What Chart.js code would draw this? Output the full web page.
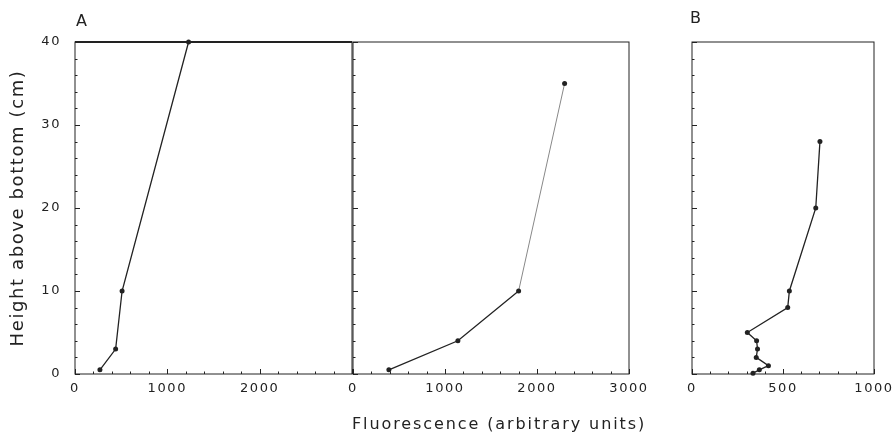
<!DOCTYPE html>
<html>
<head>
<meta charset="utf-8">
<script src="https://cdn.jsdelivr.net/npm/chart.js@4.4.1/dist/chart.umd.min.js"></script>
<style>
  body { margin: 0; background: #fff; }
  #wrap { position: relative; width: 893px; height: 442px; font-family: "DejaVu Sans", sans-serif; color: #222; }
  #wrap canvas { position: absolute; left: 0; top: 0; }
  .lbl { position: absolute; white-space: nowrap; }
</style>
</head>
<body>
<div id="wrap">
  <canvas id="c1" width="893" height="442"></canvas>
  <canvas id="c2" width="893" height="442"></canvas>
  <canvas id="c3" width="893" height="442"></canvas>
  <div class="lbl" style="left:76px;top:11px;font-size:16px;">A</div>
  <div class="lbl" style="left:690px;top:8px;font-size:16px;">B</div>
  <div class="lbl" id="xtitle" style="left:352px;top:414px;font-size:16px;letter-spacing:1.9px;">Fluorescence (arbitrary units)</div>
</div>
<script>
// panel A, left profile
const a1Fluor = [270, 440, 510, 1230];
const a1Height = [0.5, 3, 10, 40];
// panel A, right profile
const a2Fluor = [390, 1140, 1800, 2300];
const a2Height = [0.5, 4, 10, 35];
// panel B
const bFluor = [335, 370, 420, 353, 360, 355, 304, 526, 535, 680, 703];
const bHeight = [0.1, 0.5, 1, 2, 3, 4, 5, 8, 10, 20, 28];

const heightTicks = [0, 10, 20, 30, 40];
const a1XTicks = [0, 1000, 2000];
const a2XTicks = [0, 1000, 2000, 3000];
const bXTicks = [0, 500, 1000];

const ink = '#222';
const tickFont = { family: 'DejaVu Sans', size: 13 };

// letter spacing on canvas text (canvas resets when resized, so set it each time)
const spacing = {
  id: 'spacing',
  beforeUpdate(chart) { chart.ctx.letterSpacing = '1.6px'; },
  beforeDraw(chart) { chart.ctx.letterSpacing = '1.6px'; }
};

// frame plus inward ticks, drawn from the scales
const frame = {
  id: 'frame',
  afterDatasetsDraw(chart, args, opts) {
    const { ctx, chartArea: a, scales: { x, y } } = chart;
    ctx.save();
    ctx.strokeStyle = ink;
    ctx.lineWidth = 1;
    ctx.strokeRect(a.left, a.top, a.right - a.left, a.bottom - a.top);
    if (opts.topWidth) {
      ctx.lineWidth = opts.topWidth;
      ctx.beginPath(); ctx.moveTo(a.left, a.top); ctx.lineTo(a.right, a.top); ctx.stroke();
      ctx.lineWidth = 1;
    }
    ctx.beginPath();
    for (let v = x.min; v <= x.max; v += opts.xMinor) {
      const px = Math.round(x.getPixelForValue(v)) + 0.5;
      const len = v % opts.xMajor === 0 ? 5 : 2.5;
      ctx.moveTo(px, a.bottom); ctx.lineTo(px, a.bottom - len);
    }
    for (let v = y.min; v <= y.max; v += 2) {
      const py = Math.round(y.getPixelForValue(v)) + 0.5;
      const len = v % 10 === 0 ? 5 : 2.5;
      ctx.moveTo(a.left, py); ctx.lineTo(a.left + len, py);
    }
    ctx.stroke();
    ctx.restore();
  }
};

function makePanel(id, xs, ys, o) {
  const pts = xs.map((v, i) => ({ x: v, y: ys[i] }));
  return new Chart(document.getElementById(id), {
    type: 'scatter',
    data: {
      datasets: [{
        data: pts,
        showLine: true,
        borderColor: ink,
        borderWidth: 1.3,
        backgroundColor: ink,
        pointRadius: 2.5,
        pointBorderWidth: 0,
        clip: false,
        segment: o.segment
      }]
    },
    options: {
      responsive: false,
      animation: false,
      events: [],
      layout: { padding: o.padding },
      plugins: { legend: { display: false }, tooltip: { enabled: false }, frame: o.frame },
      scales: {
        x: {
          type: 'linear', min: 0, max: o.xMax,
          grid: { display: false, drawTicks: false }, border: { display: false },
          afterBuildTicks: s => { s.ticks = o.xTicks.map(v => ({ value: v })); },
          afterFit: s => { s.height = 68; s.paddingLeft = 0; s.paddingRight = 0; },
          ticks: { color: ink, font: tickFont, padding: 7, maxRotation: 0, autoSkip: false,
                   callback: v => String(v) }
        },
        y: {
          type: 'linear', min: 0, max: 40,
          grid: { display: false, drawTicks: false }, border: { display: false },
          afterBuildTicks: s => { s.ticks = heightTicks.map(v => ({ value: v })); },
          afterFit: s => { s.width = o.yWidth; },
          ticks: { display: o.yLabels, color: ink, font: tickFont, padding: 14,
                   callback: v => String(v) },
          title: {
            display: o.yLabels,
            text: 'Height above bottom (cm)',
            color: ink,
            font: { family: 'DejaVu Sans', size: 18 },
            padding: { top: 8, bottom: 0 }
          }
        }
      }
    },
    plugins: [spacing, frame]
  });
}

makePanel('c1', a1Fluor, a1Height, {
  xMax: 3000, xTicks: a1XTicks, yWidth: 75, yLabels: true,
  padding: { left: 0, right: 541, top: 42, bottom: 0 },
  frame: { xMinor: 200, xMajor: 1000, topWidth: 2 }
});
makePanel('c2', a2Fluor, a2Height, {
  xMax: 3000, xTicks: a2XTicks, yWidth: 0, yLabels: false,
  padding: { left: 353, right: 264, top: 42, bottom: 0 },
  frame: { xMinor: 200, xMajor: 1000 },
  segment: { borderColor: c => c.p0DataIndex === 2 ? '#888' : undefined,
             borderWidth: c => c.p0DataIndex === 2 ? 1 : undefined }
});
makePanel('c3', bFluor, bHeight, {
  xMax: 1000, xTicks: bXTicks, yWidth: 0, yLabels: false,
  padding: { left: 692, right: 19, top: 42, bottom: 0 },
  frame: { xMinor: 100, xMajor: 500 }
});
</script>
</body>
</html>
